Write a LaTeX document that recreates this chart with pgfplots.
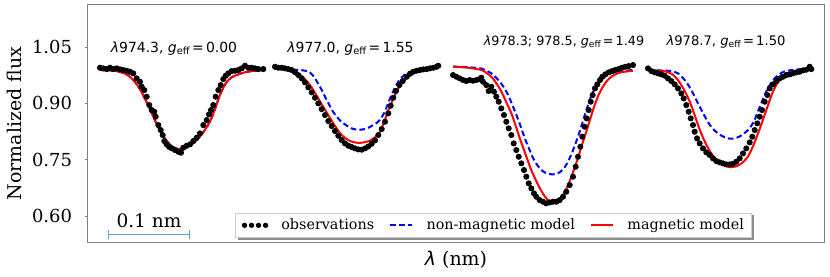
\documentclass[border=0pt]{standalone}
\usepackage{fontspec}
\setmainfont{DejaVu Serif}
\newfontfamily\dvsans{DejaVu Sans}
\usepackage{pgfplots}
\pgfplotsset{compat=1.18}
\usetikzlibrary{arrows.meta,backgrounds}
\definecolor{scalebar}{RGB}{95,162,216}
\definecolor{frame}{RGB}{128,128,128}

\newcommand{\plab}[3]{{\dvsans\fontsize{#3}{8}\selectfont\textit{λ}#1, \textit{g}\raisebox{-0.28ex}{\fontsize{0.71\dimexpr#3pt\relax}{5}\selectfont eff}\,=\,#2}}

\begin{document}
\begin{tikzpicture}
\begin{axis}[
  at={(0,0)}, anchor=south west,
  scale only axis, width=368bp, height=118.5bp,
  xmin=88, xmax=824, ymin=0.531, ymax=1.162,
  xtick=\empty,
  ytick={0.60,0.75,0.90,1.05},
  /pgf/number format/assume math mode=true,
  yticklabel style={/pgf/number format/fixed, /pgf/number format/fixed zerofill,
    /pgf/number format/precision=2, font=\fontsize{9}{10}\selectfont, xshift=-3bp},
  axis line style={frame, line width=0.5bp},
  tick style={frame, line width=0.5bp},
  tick align=outside, major tick length=1.5bp,
  ytick pos=left,
  ylabel={Normalized flux},
  ylabel style={font=\fontsize{9.5}{10}\selectfont, at={(axis description cs:-0.1005,0.5)}, anchor=center, rotate=0},
  xlabel={{\dvsans\itshape λ} (nm)},
  xlabel style={font=\fontsize{9.5}{10}\selectfont, at={(axis description cs:0.5,-0.076)}, anchor=center},
  clip=false,
  legend columns=3,
  legend style={name=leg, at={(0.551,0.017)}, anchor=south, font=\fontsize{7.2}{8.5}\selectfont,
    draw=black!20, fill=white, line width=0.5bp,
    inner xsep=3bp, inner ysep=2bp,
    nodes={inner sep=0.6bp},
    /tikz/every odd column/.append style={column sep=6bp},
    /tikz/every even column/.append style={column sep=7bp}},
  legend cell align=left,
]
% ---------- profile 1 ----------
\addplot[only marks, mark=*, mark size=1.3bp, black,
  legend image code/.code={
    \fill[black] (0bp,0bp) circle (1.05bp);
    \fill[black] (3.5bp,0bp) circle (1.05bp);
    \fill[black] (7bp,0bp) circle (1.05bp);
    \fill[black] (10.5bp,0bp) circle (1.05bp);}]
coordinates {(100,0.9950)(103.3,0.9932)(106.7,0.9914)(110,0.9950)(113.3,0.9914)(116.7,0.9932)(120,0.9905)(123.3,0.9888)(126.7,0.9870)(130,0.9843)(133.3,0.9799)(136.7,0.9666)(140,0.9577)(141.7,0.9444)(144.3,0.9355)(146.7,0.9178)(149.3,0.8956)(151.7,0.8823)(154.3,0.8778)(155.7,0.8645)(158.3,0.8423)(160.7,0.8290)(162.7,0.8157)(164.3,0.7997)(166.7,0.7909)(169,0.7846)(171.7,0.7802)(175,0.7758)(178.3,0.7713)(181,0.7687)(183.3,0.7820)(186.7,0.7873)(190,0.7909)(193.3,0.7997)(196.7,0.8086)(200,0.8201)(203.3,0.8423)(206.7,0.8556)(209,0.8707)(211,0.8823)(213.3,0.8956)(215.7,0.9178)(218.3,0.9355)(220.7,0.9488)(223.3,0.9648)(225.7,0.9737)(228.3,0.9799)(231.7,0.9861)(235,0.9870)(238.3,0.9888)(241.7,0.9932)(245,1.0003)(248.3,0.9950)(251.7,0.9950)(255,0.9932)(258.3,0.9914)(263.3,0.9914)};
\addlegendentry{observations}
\addplot[blue, line width=1bp, dash pattern=on 2.8bp off 1.6bp, smooth,
  legend image code/.code={\draw[blue, line width=1bp, dash pattern=on 2.8bp off 1.6bp] (0bp,0bp) -- (11bp,0bp);}]
coordinates {(100,0.989)(110,0.988)(120,0.984)(128,0.975)(134,0.960)(140,0.938)(145,0.912)(150,0.884)(155,0.855)(160,0.828)(165,0.806)(170,0.790)(175,0.781)(180,0.778)(185,0.781)(190,0.788)(195,0.798)(200,0.812)(205,0.830)(210,0.852)(215,0.885)(218,0.908)(222,0.935)(227,0.958)(232,0.970)(238,0.977)(245,0.983)(255,0.987)(263,0.988)};
\addlegendentry{non-magnetic model}
\addplot[red, line width=1bp, smooth,
  legend image code/.code={\draw[red, line width=1bp] (0bp,0bp) -- (11bp,0bp);}]
coordinates {(100,0.989)(110,0.988)(120,0.984)(128,0.975)(134,0.960)(140,0.938)(145,0.912)(150,0.884)(155,0.855)(160,0.828)(165,0.806)(170,0.790)(175,0.781)(180,0.778)(185,0.781)(190,0.788)(195,0.798)(200,0.812)(205,0.830)(210,0.852)(215,0.885)(218,0.908)(222,0.935)(227,0.958)(232,0.970)(238,0.977)(245,0.983)(255,0.987)(263,0.988)};
\addlegendentry{magnetic model}
% ---------- profile 2 ----------
\addplot[forget plot, only marks, mark=*, mark size=1.3bp, black]
coordinates {(275,0.9976)(278.3,0.9950)(281.7,0.9950)(285,0.9932)(288.3,0.9914)(291.7,0.9888)(295,0.9826)(298.3,0.9755)(301.7,0.9666)(305,0.9559)(308.3,0.9426)(311.7,0.9293)(315,0.9151)(318.3,0.9000)(321.7,0.8849)(325,0.8690)(328.3,0.8530)(331.7,0.8397)(335,0.8264)(338.3,0.8139)(341.7,0.8024)(345,0.7935)(348.3,0.7873)(351.7,0.7838)(355,0.7802)(358.3,0.7775)(361.7,0.7767)(365,0.7802)(368.3,0.7855)(371.7,0.7926)(375,0.8015)(378.3,0.8157)(381.7,0.8317)(385,0.8512)(388.3,0.8734)(390.7,0.8938)(393.3,0.9151)(396,0.9329)(399.3,0.9488)(402.7,0.9595)(406.7,0.9710)(410,0.9790)(413.3,0.9843)(416.7,0.9870)(420,0.9888)(423.3,0.9905)(426.7,0.9914)(430,0.9932)(433.3,0.9950)(436.7,0.9976)(438.3,1.0003)};
\addplot[forget plot, blue, line width=1bp, dash pattern=on 2.8bp off 1.6bp, smooth]
coordinates {(275,0.992)(290,0.990)(300,0.989)(308,0.985)(312,0.977)(315,0.967)(318,0.953)(321.7,0.936)(325,0.918)(328.3,0.901)(332,0.882)(336.7,0.865)(341,0.852)(346.7,0.841)(351,0.834)(356.7,0.830)(361,0.830)(366.7,0.833)(371,0.839)(376.7,0.848)(381,0.860)(385,0.879)(388,0.900)(391.7,0.923)(395,0.942)(398.3,0.958)(402,0.970)(406.7,0.980)(411,0.985)(416.7,0.989)(425,0.992)(438,0.995)};
\addplot[forget plot, red, line width=1bp, smooth]
coordinates {(275,0.992)(290,0.989)(300,0.976)(305,0.964)(310,0.949)(315,0.928)(320,0.905)(325,0.883)(330,0.861)(335,0.840)(340,0.821)(345,0.808)(350,0.800)(355,0.796)(360,0.795)(365,0.797)(370,0.801)(375,0.810)(380,0.825)(384,0.850)(388,0.879)(392,0.905)(396.7,0.932)(401,0.950)(406.7,0.967)(411,0.977)(416.7,0.985)(425,0.989)(438,0.995)};
% ---------- profile 3 ----------
\addplot[forget plot, only marks, mark=*, mark size=1.3bp, black]
coordinates {(453,0.9755)(456.3,0.9710)(459.7,0.9666)(463,0.9621)(466.3,0.9595)(469.7,0.9621)(473,0.9604)(476.3,0.9621)(479.7,0.9648)(481.3,0.9684)(483,0.9577)(486.3,0.9488)(488.7,0.9329)(491.3,0.9444)(494,0.9311)(496.3,0.9178)(498.7,0.9045)(501.3,0.8867)(504,0.8690)(506.3,0.8512)(508.7,0.8335)(511.3,0.8157)(513.7,0.7935)(516.3,0.7758)(518.7,0.7580)(521.3,0.7403)(524,0.7225)(526.3,0.7048)(528.7,0.6870)(531.3,0.6737)(534,0.6604)(536.3,0.6515)(539.7,0.6426)(543,0.6382)(546.3,0.6338)(549.7,0.6364)(553,0.6382)(556.3,0.6382)(559.7,0.6426)(563,0.6515)(566.3,0.6648)(569.7,0.6826)(573,0.7048)(575.7,0.7314)(578,0.7580)(580.3,0.7846)(582.3,0.8113)(584.7,0.8379)(586.7,0.8601)(588.7,0.8823)(590.7,0.9045)(592.7,0.9222)(595,0.9400)(597.3,0.9506)(600,0.9621)(602.3,0.9710)(605.3,0.9772)(608.7,0.9826)(612,0.9861)(615.3,0.9888)(618.7,0.9914)(622,0.9950)(625.3,0.9976)(628.7,0.9994)(633,1.0021)};
\addplot[forget plot, blue, line width=1bp, dash pattern=on 2.8bp off 1.6bp, smooth]
coordinates {(453,0.998)(470,0.996)(481.3,0.993)(486,0.988)(491.3,0.980)(495.5,0.970)(499.7,0.958)(504,0.942)(508,0.923)(512,0.898)(516.3,0.870)(520.5,0.840)(524.7,0.808)(529,0.780)(533,0.755)(538,0.733)(543,0.719)(548,0.713)(553,0.711)(558,0.714)(563,0.724)(567,0.740)(571.3,0.764)(575.5,0.793)(579.7,0.825)(584,0.862)(588,0.896)(592,0.925)(596.3,0.945)(600.5,0.960)(604.7,0.971)(609,0.978)(614.7,0.983)(622,0.986)(633,0.989)};
\addplot[forget plot, red, line width=1bp, smooth]
coordinates {(453,0.998)(468,0.995)(481.3,0.989)(486,0.982)(491.3,0.971)(496,0.955)(501.3,0.932)(506,0.905)(511.3,0.874)(515.5,0.842)(519.7,0.808)(524,0.776)(528,0.746)(532,0.718)(536.3,0.693)(540.5,0.671)(544.7,0.653)(549,0.640)(553,0.635)(557,0.638)(561.3,0.649)(565.5,0.668)(569.7,0.693)(574,0.724)(578,0.755)(582,0.790)(586.3,0.825)(590.5,0.861)(594.7,0.896)(599,0.925)(603,0.945)(607,0.960)(611.3,0.971)(616,0.978)(621.3,0.983)(633,0.987)};
% ---------- profile 4 ----------
\addplot[forget plot, only marks, mark=*, mark size=1.3bp, black]
coordinates {(648,0.9932)(651.3,0.9861)(654.7,0.9826)(658,0.9799)(661.3,0.9772)(664.7,0.9737)(668,0.9666)(671.3,0.9595)(674.7,0.9506)(678,0.9400)(681.3,0.9266)(683.7,0.9133)(686.3,0.8956)(688.7,0.8778)(690.7,0.8601)(693,0.8423)(694.7,0.8246)(697,0.8068)(699.7,0.7935)(703,0.7802)(706.3,0.7696)(709.7,0.7625)(713,0.7536)(716.3,0.7465)(719.7,0.7429)(723,0.7403)(726.3,0.7376)(729.7,0.7376)(733,0.7394)(736.3,0.7447)(739.7,0.7536)(743,0.7669)(746.3,0.7802)(749.7,0.7962)(752.3,0.8113)(754.7,0.8290)(757.3,0.8468)(759.7,0.8645)(762,0.8823)(764.7,0.9045)(767.3,0.9222)(769.7,0.9400)(773,0.9506)(776.3,0.9595)(779.7,0.9666)(783,0.9710)(786.3,0.9755)(789.7,0.9772)(793,0.9799)(796.3,0.9826)(799.7,0.9843)(803,0.9879)(806.3,0.9897)(809.7,0.9976)(811.3,0.9914)};
\addplot[forget plot, blue, line width=1bp, dash pattern=on 2.8bp off 1.6bp, smooth]
coordinates {(648,0.989)(660,0.988)(671.3,0.986)(678,0.980)(681,0.973)(684.7,0.962)(689,0.946)(693,0.927)(697,0.905)(701.3,0.883)(705.5,0.862)(709.7,0.843)(714.5,0.828)(719.7,0.817)(724.5,0.810)(729.7,0.806)(734.5,0.807)(739.7,0.812)(744.5,0.821)(749.7,0.834)(754,0.853)(758,0.879)(762,0.905)(766.3,0.932)(770.5,0.952)(774.7,0.967)(779.5,0.978)(784.7,0.985)(795,0.990)(811.3,0.993)};
\addplot[forget plot, red, line width=1bp, smooth]
coordinates {(648,0.989)(663,0.986)(668,0.983)(673,0.976)(677,0.965)(681.3,0.949)(685.5,0.929)(689.7,0.905)(694,0.874)(698,0.843)(702,0.815)(706.3,0.790)(710.5,0.770)(714.7,0.755)(719,0.744)(723,0.737)(727,0.732)(731.3,0.730)(735.5,0.732)(739.7,0.737)(744,0.746)(748,0.759)(752,0.780)(756.3,0.808)(760.5,0.838)(764.7,0.870)(769,0.903)(773,0.932)(777,0.952)(781.3,0.967)(786,0.977)(791.3,0.983)(800,0.988)(811.3,0.993)};
% ---------- labels ----------
\node[anchor=base] at (axis cs:174,1.0354) {\plab{974.3}{0.00}{7.0}};
\node[anchor=base] at (axis cs:350.5,1.0354) {\plab{977.0}{1.55}{7.0}};
\node[anchor=base] at (axis cs:564,1.054) {\plab{978.3; 978.5}{1.49}{6.4}};
\node[anchor=base] at (axis cs:726,1.054) {\plab{978.7}{1.50}{6.6}};
% ---------- scale bar ----------
\draw[scalebar, line width=0.6bp, {Bar[width=4.4bp,line width=0.6bp]}-{Bar[width=4.4bp,line width=0.6bp]}] (axis cs:108,0.552) -- (axis cs:190,0.552);
\node[anchor=base, font=\fontsize{9.3}{10}\selectfont] at (axis cs:149,0.569) {0.1 nm};
\end{axis}
\begin{scope}[on background layer]
\fill[black!45] ([xshift=1.2bp,yshift=-1.2bp]leg.south west) rectangle ([xshift=1.2bp,yshift=-1.2bp]leg.north east);
\end{scope}
\pgfresetboundingbox
\path[use as bounding box] (-44bp,-17.5bp) rectangle (371bp,121bp);
\end{tikzpicture}
\end{document}
